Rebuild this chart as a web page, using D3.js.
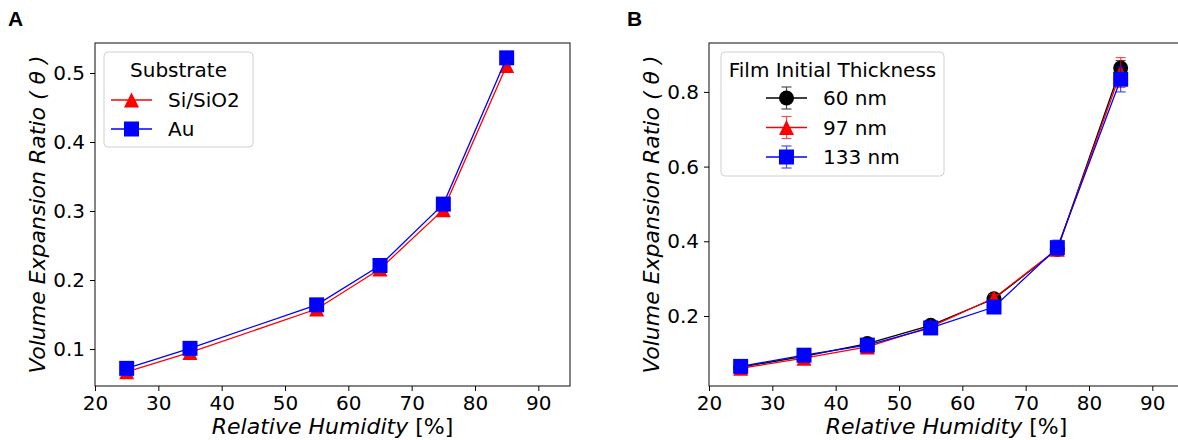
<!DOCTYPE html>
<html>
<head>
<meta charset="utf-8">
<script src="https://cdn.jsdelivr.net/npm/d3@7.9.0/dist/d3.min.js"></script>
<style>
  body { margin: 0; background: #fff; }
  svg { display: block; font-family: "DejaVu Sans", sans-serif; }
  .tick text { font-size: 20px; fill: #000; }
  .tick line, .domain { stroke: #000; }
</style>
</head>
<body>
<svg id="chart" width="1178" height="440"></svg>
<script>
// Panel A: substrate comparison
const rhA = [25, 35, 55, 65, 75, 85];
const siSiO2 = [0.067, 0.095, 0.158, 0.216, 0.302, 0.511];
const au = [0.072, 0.101, 0.164, 0.221, 0.310, 0.522];

// Panel B: film initial thickness
const rhB = [25, 35, 45, 55, 65, 75, 85];
const nm60 = [0.063, 0.092, 0.126, 0.175, 0.246, 0.378, 0.864];
const nm60Err = [0.004, 0.005, 0.006, 0.007, 0.010, 0.015, 0.020];
const nm97 = [0.060, 0.087, 0.117, 0.171, 0.248, 0.379, 0.852];
const nm97Err = [0.004, 0.005, 0.006, 0.007, 0.010, 0.015, 0.040];
const nm133 = [0.065, 0.095, 0.122, 0.168, 0.224, 0.383, 0.834];
const nm133Err = [0.004, 0.005, 0.006, 0.007, 0.010, 0.020, 0.034];

const xTicks = [20, 30, 40, 50, 60, 70, 80, 90];
const yTicksA = [0.1, 0.2, 0.3, 0.4, 0.5];
const yTicksB = [0.2, 0.4, 0.6, 0.8];

const svg = d3.select('#chart');

// marker path for a given shape, size = full width in px
function markerPath(shape, s) {
  const r = s / 2;
  if (shape === 'square') return `M${-r},${-r}H${r}V${r}H${-r}Z`;
  if (shape === 'triangle') return `M0,${-r}L${-r},${r}L${r},${r}Z`;
  return d3.symbol(d3.symbolCircle, Math.PI * r * r)();
}

function drawPanel(opts) {
  const { left, right, top, bottom, yDomain, yTicks, series, xs, letter, letterX, legendTitle, legendBox } = opts;
  const x = d3.scaleLinear().domain([20, 95]).range([left, right]);
  const y = d3.scaleLinear().domain(yDomain).range([bottom, top]);
  const g = svg.append('g');

  // series
  series.forEach(s => {
    const pts = xs.map((v, i) => ({ x: v, y: s.values[i], e: s.err ? s.err[i] : 0 }));
    const line = d3.line().x(d => x(d.x)).y(d => y(d.y));
    g.append('path').datum(pts)
      .attr('d', line).attr('fill', 'none')
      .attr('stroke', s.color).attr('stroke-width', 1.3);
    if (s.err) {
      const eb = g.append('g').attr('stroke', s.color).attr('stroke-width', 1.2).attr('opacity', 0.7);
      pts.forEach(d => {
        eb.append('line').attr('x1', x(d.x)).attr('x2', x(d.x)).attr('y1', y(d.y - d.e)).attr('y2', y(d.y + d.e));
        [d.y - d.e, d.y + d.e].forEach(v => {
          eb.append('line').attr('x1', x(d.x) - 5).attr('x2', x(d.x) + 5).attr('y1', y(v)).attr('y2', y(v));
        });
      });
    }
    g.selectAll(null).data(pts).enter().append('path')
      .attr('d', markerPath(s.shape, 15))
      .attr('transform', d => `translate(${x(d.x)},${y(d.y)})`)
      .attr('fill', s.color);
  });

  // frame
  g.append('rect').attr('x', left).attr('y', top)
    .attr('width', right - left).attr('height', bottom - top)
    .attr('fill', 'none').attr('stroke', '#222').attr('stroke-width', 1.1);

  // axes
  const xAxis = g.append('g').attr('transform', `translate(0,${bottom})`)
    .call(d3.axisBottom(x).tickValues(xTicks).tickSize(5).tickPadding(5).tickFormat(d3.format('d')));
  const yAxis = g.append('g').attr('transform', `translate(${left},0)`)
    .call(d3.axisLeft(y).tickValues(yTicks).tickSize(5).tickPadding(5).tickFormat(d3.format('.1f')));
  [xAxis, yAxis].forEach(a => {
    a.select('.domain').remove();
    a.selectAll('.tick text').attr('font-family', 'DejaVu Sans').attr('font-size', 20.5);
  });

  // axis titles
  const xl = g.append('text').attr('x', (left + right) / 2).attr('y', 434)
    .attr('text-anchor', 'middle').attr('font-size', 22);
  xl.append('tspan').attr('font-style', 'italic').text('Relative Humidity ');
  xl.append('tspan').text('[%]');

  const yl = g.append('text')
    .attr('transform', `translate(${left - 50},${(top + bottom) / 2}) rotate(-90)`)
    .attr('text-anchor', 'middle').attr('font-size', 22).attr('font-style', 'italic');
  yl.text('Volume Expansion Ratio ( θ )');

  // panel letter
  g.append('text').attr('x', letterX).attr('y', 26)
    .attr('font-family', 'Liberation Sans, Arial, sans-serif')
    .attr('font-weight', 'bold').attr('font-size', 21).text(letter);

  // legend
  const lg = g.append('g');
  lg.append('rect').attr('x', legendBox.x).attr('y', legendBox.y)
    .attr('width', legendBox.w).attr('height', legendBox.h)
    .attr('rx', 4).attr('fill', 'white').attr('fill-opacity', 0.85)
    .attr('stroke', '#d0d0d0').attr('stroke-width', 1);
  lg.append('text').attr('x', legendBox.x + legendBox.w / 2).attr('y', legendBox.y + 25)
    .attr('text-anchor', 'middle').attr('font-size', 20).text(legendTitle);
  series.forEach((s, i) => {
    const cy = legendBox.y + legendBox.first + i * legendBox.step;
    const hx = legendBox.x + legendBox.hx;
    lg.append('line').attr('x1', hx).attr('x2', hx + 41).attr('y1', cy).attr('y2', cy)
      .attr('stroke', s.color).attr('stroke-width', 1.3);
    if (s.err) {
      const eb = lg.append('g').attr('stroke', s.color).attr('stroke-width', 1.2).attr('opacity', 0.7);
      eb.append('line').attr('x1', hx + 20.5).attr('x2', hx + 20.5).attr('y1', cy - 11).attr('y2', cy + 11);
      eb.append('line').attr('x1', hx + 15.5).attr('x2', hx + 25.5).attr('y1', cy - 11).attr('y2', cy - 11);
      eb.append('line').attr('x1', hx + 15.5).attr('x2', hx + 25.5).attr('y1', cy + 11).attr('y2', cy + 11);
    }
    lg.append('path').attr('d', markerPath(s.shape, 15))
      .attr('transform', `translate(${hx + 20.5},${cy})`).attr('fill', s.color);
    lg.append('text').attr('x', hx + 57).attr('y', cy).attr('dy', '0.36em')
      .attr('font-size', 20).text(s.name);
  });
}

drawPanel({
  left: 95, right: 570, top: 43, bottom: 386,
  yDomain: [0.0464, 0.5435], yTicks: yTicksA, xs: rhA,
  letter: 'A', letterX: 8,
  legendTitle: 'Substrate',
  legendBox: { x: 104, y: 52, w: 149, h: 95, first: 48, step: 29, hx: 7 },
  series: [
    { name: 'Si/SiO2', values: siSiO2, color: '#ff0000', shape: 'triangle' },
    { name: 'Au', values: au, color: '#0000ff', shape: 'square' }
  ]
});

drawPanel({
  left: 709, right: 1184, top: 43, bottom: 386,
  yDomain: [0.0125, 0.931], yTicks: yTicksB, xs: rhB,
  letter: 'B', letterX: 627,
  legendTitle: 'Film Initial Thickness',
  legendBox: { x: 721, y: 52, w: 223, h: 124, first: 46, step: 29.5, hx: 45 },
  series: [
    { name: '60 nm', values: nm60, err: nm60Err, color: '#000000', shape: 'circle' },
    { name: '97 nm', values: nm97, err: nm97Err, color: '#ff0000', shape: 'triangle' },
    { name: '133 nm', values: nm133, err: nm133Err, color: '#0000ff', shape: 'square' }
  ]
});
</script>
</body>
</html>
